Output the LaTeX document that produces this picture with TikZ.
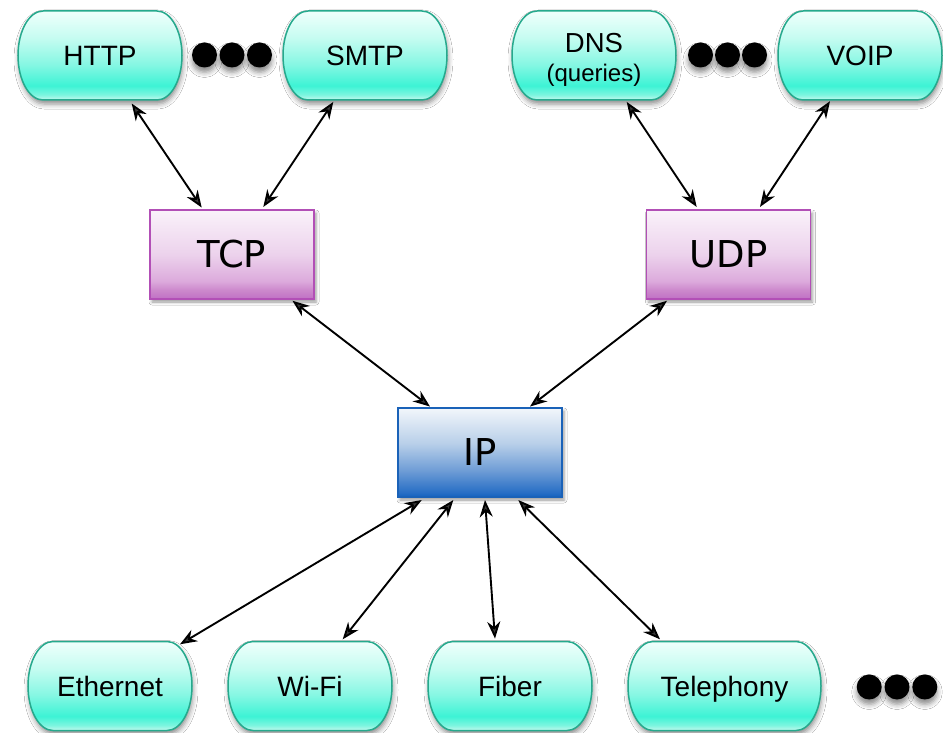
\documentclass[tikz,border=0pt]{standalone}
\usepackage{fontspec}
\setmainfont{Liberation Sans}
\newfontfamily\boxfont{DejaVu Sans}
\usetikzlibrary{arrows.meta,shadows.blur}
\definecolor{pillborder}{HTML}{26A98D}
\definecolor{pA}{HTML}{C4F9EF}
\definecolor{pB}{HTML}{7CF5DF}
\definecolor{pC}{HTML}{3DF3D5}
\definecolor{pD}{HTML}{86F7E3}
\definecolor{pE}{HTML}{C6FCF1}
\definecolor{pF}{HTML}{EFFFFC}
\pgfdeclareverticalshading{pillshade}{100bp}{color(0bp)=(pA); color(25bp)=(pA); color(28bp)=(pB); color(33bp)=(pC); color(45bp)=(pD); color(60bp)=(pE); color(75bp)=(pF); color(100bp)=(pF)}
\definecolor{purpleborder}{HTML}{B24FB6}
\definecolor{uA}{HTML}{C070C4}
\definecolor{uB}{HTML}{CC88CC}
\definecolor{uC}{HTML}{DCAADC}
\definecolor{uD}{HTML}{ECD2EC}
\definecolor{uE}{HTML}{FAF2FA}
\pgfdeclareverticalshading{purpleshade}{100bp}{color(0bp)=(uA); color(25bp)=(uA); color(30bp)=(uB); color(35bp)=(uC); color(50bp)=(uD); color(75bp)=(uE); color(100bp)=(uE)}
\definecolor{blueborder}{HTML}{1A62B8}
\definecolor{bA}{HTML}{1462BF}
\definecolor{bB}{HTML}{2A70C6}
\definecolor{bC}{HTML}{6F9DD6}
\definecolor{bD}{HTML}{B8CFE9}
\definecolor{bE}{HTML}{F2F6FB}
\pgfdeclareverticalshading{blueshade}{100bp}{color(0bp)=(bA); color(25bp)=(bA); color(28bp)=(bB); color(40bp)=(bC); color(55bp)=(bD); color(75bp)=(bE); color(100bp)=(bE)}
\tikzset{
  pillbody/.style={shade, shading=pillshade, draw=pillborder, line width=1.5pt,
    blur shadow={shadow xshift=1pt, shadow yshift=-4pt, shadow blur radius=5pt, shadow opacity=45}},
  pill/.style={minimum width=#1, minimum height=89pt, inner sep=0pt,
    text height=20pt, text depth=0pt, font=\fontsize{28}{30}\selectfont},
  pill/.default=164pt,
  layerbox/.style={draw=#1border, line width=1.5pt, shade, shading=#1shade,
    minimum width=164pt, minimum height=89pt, inner sep=0pt,
    font=\boxfont\fontsize{37}{40}\selectfont,
    blur shadow={shadow xshift=2pt, shadow yshift=-3pt, shadow blur radius=3pt, shadow opacity=40}},
  dot/.style={circle, fill=black, minimum size=25pt, inner sep=0pt,
    blur shadow={shadow xshift=0pt, shadow yshift=-5pt, shadow blur radius=5pt, shadow opacity=45}},
  arr/.style={line width=1.9pt, >={Stealth[length=17pt,width=13pt,inset=5.5pt]}, <->}
}
% pill outline: [width]{centre x}{centre y}
\newcommand{\pillshape}[3][164]{%
  \path[pillbody] ({#2-#1/2+25},{#3+44.5}) -- ({#2+#1/2-25},{#3+44.5})
    arc[start angle=90, end angle=-90, x radius=25pt, y radius=44.5pt]
    -- ({#2-#1/2+25},{#3-44.5})
    arc[start angle=270, end angle=90, x radius=25pt, y radius=44.5pt] -- cycle;}
\begin{document}
\begin{tikzpicture}[x=1pt,y=1pt]
\fill[white] (0,0) rectangle (943,-733);
\useasboundingbox (0,0) rectangle (943,-733);
% application layer
\pillshape{100}{-55.5}
\node[pill] (HTTP) at (100,-55.5) {HTTP};
\pillshape{365}{-55.5}
\node[pill] (SMTP) at (365,-55.5) {SMTP};
\pillshape{594}{-55.5}
\node[pill, text height=, text depth=, align=center, yshift=-4.5pt,
      font=\fontsize{27.5}{29}\selectfont] (DNS) at (594,-55.5)
      {DNS\\{\fontsize{24}{29}\selectfont(queries)}};
\pillshape{860}{-55.5}
\node[pill] (VOIP) at (860,-55.5) {VOIP};
\node[dot] (d1) at (204.5,-55) {};
\node[dot] (d2) at (232,-55) {};
\node[dot] (d3) at (259.5,-55) {};
\node[dot] (d4) at (700.5,-55) {};
\node[dot] (d5) at (727.5,-55) {};
\node[dot] (d6) at (754.5,-55) {};
% transport
\node[layerbox=purple] (TCP) at (232,-254.5) {TCP};
\node[layerbox=purple] (UDP) at (728.5,-254.5) {UDP};
% network
\node[layerbox=blue] (IP) at (480,-452.5) {IP};
% link
\pillshape{110}{-686}
\node[pill] (ETH) at (110,-686) {Ethernet};
\pillshape{310}{-686}
\node[pill] (WIFI) at (310,-686) {Wi-Fi};
\pillshape{510}{-686}
\node[pill] (FIB) at (510,-686) {Fiber};
\pillshape[193]{724.5}{-686}
\node[pill=193pt] (TEL) at (724.5,-686) {Telephony};
\node[dot] (d7) at (869.2,-687) {};
\node[dot] (d8) at (897,-687) {};
\node[dot] (d9) at (924.8,-687) {};
% connectors
\draw[arr] ([shift={(31.7,-3.3)}]HTTP.south) -- ([shift={(-30.3,1.7)}]TCP.north);
\draw[arr] ([shift={(-31.7,-1.7)}]SMTP.south) -- ([shift={(31.3,2.3)}]TCP.north);
\draw[arr] ([shift={(32.7,2.8)}]DNS.south) -- ([shift={(-31.8,2.3)}]UDP.north);
\draw[arr] ([shift={(-30,-1)}]VOIP.south) -- ([shift={(31.5,2.3)}]UDP.north);
\draw[arr] ([shift={(-22.3,-1)}]TCP.south east) -- ([shift={(-50,0.7)}]IP.north);
\draw[arr] ([shift={(21.3,-1)}]UDP.south west) -- ([shift={(50,0.7)}]IP.north);
\draw[arr] ([shift={(-58.3,-2.3)}]IP.south) -- ([shift={(70,-3)}]ETH.north);
\draw[arr] ([shift={(-26.7,-2.3)}]IP.south) -- ([shift={(32.7,2)}]WIFI.north);
\draw[arr] ([shift={(5,-2.3)}]IP.south) -- ([shift={(-15,2.7)}]FIB.north);
\draw[arr] ([shift={(38.3,-2.3)}]IP.south) -- ([shift={(-64.5,2)}]TEL.north);
\end{tikzpicture}
\end{document}
